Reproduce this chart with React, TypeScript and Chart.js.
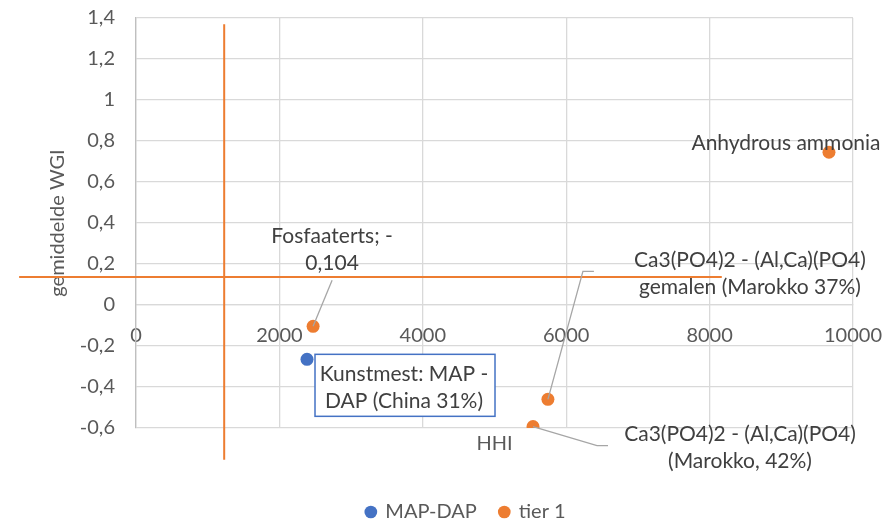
import React, { useEffect, useRef } from "react";
import { Chart, registerables } from "chart.js";

Chart.register(...registerables);

// ---- data ----
const seriesNames = ["MAP-DAP", "tier 1"];
const mapDapX = [2385];
const mapDapY = [-0.265];
const mapDapLabels = [["Kunstmest: MAP -", "DAP (China 31%)"]];
const tierX = [2470, 5745, 5537, 9665];
const tierY = [-0.104, -0.46, -0.593, 0.745];
const tierLabels = [
  ["Fosfaaterts; -", "0,104"],
  ["Ca3(PO4)2 - (Al,Ca)(PO4)", "gemalen (Marokko 37%)"],
  ["Ca3(PO4)2 - (Al,Ca)(PO4)", "(Marokko, 42%)"],
  ["Anhydrous ammonia"],
];
const vLineX = [1230, 1230];
const vLineY = [1.37, -0.755];
const hLineX = [-1630, 8170];
const hLineY = [0.137, 0.137];
const xTicks = [0, 2000, 4000, 6000, 8000, 10000];
const yTicks = [-0.6, -0.4, -0.2, 0, 0.2, 0.4, 0.6, 0.8, 1, 1.2, 1.4];
const xTitle = "HHI";
const yTitle = "gemiddelde WGI";

// ---- styles / label placement (pixels relative to the point) ----
const BLUE = "#4472C4";
const ORANGE = "#ED7D31";
const GRID = "#d9d9d9";
const TICK = "#595959";
const LABEL = "#404040";
const FAMILY = "Lato, 'Open Sans', sans-serif";
const FS = 20;
const LFS = 21;
const LINE_H = 27;
const PAD_LEFT = 79;

const tierLabelLayout = [
  { dx: 19, dy: -90, leader: [[19, -46]] },
  { dx: 202, dy: -139, leader: [[35, -128], [46, -128]] },
  { dx: 207, dy: 8, leader: [[64, 19], [75, 19]] },
  { dx: -43, dy: -9, leader: [] as number[][] },
];
const mapDapLabelLayout = [{ dx: 97, dy: 15, box: { l: 8, r: 188, t: -5, b: 57 } }];

const fmt = (v: number) => {
  const r = Math.round(v * 10) / 10;
  return String(r).replace(".", ",");
};

const labelPlugin = {
  id: "dataLabels",
  afterDatasetsDraw(chart: any) {
    const ctx = chart.ctx;
    ctx.save();
    ctx.font = `${LFS}px ${FAMILY}`;
    ctx.textAlign = "center";
    ctx.textBaseline = "middle";
    const m0 = chart.getDatasetMeta(0);
    m0.data.forEach((pt: any, i: number) => {
      const lay = mapDapLabelLayout[i];
      const lines = mapDapLabels[i];
      if (!lay || !lines) return;
      const b = lay.box;
      ctx.fillStyle = "#ffffff";
      ctx.fillRect(pt.x + b.l, pt.y + b.t, b.r - b.l, b.b - b.t);
      ctx.strokeStyle = BLUE;
      ctx.lineWidth = 1.5;
      ctx.strokeRect(pt.x + b.l, pt.y + b.t, b.r - b.l, b.b - b.t);
      ctx.fillStyle = LABEL;
      lines.forEach((t, k) => ctx.fillText(t, pt.x + lay.dx, pt.y + lay.dy + k * LINE_H));
    });
    const m1 = chart.getDatasetMeta(1);
    m1.data.forEach((pt: any, i: number) => {
      const lay = tierLabelLayout[i];
      const lines = tierLabels[i];
      if (!lay || !lines) return;
      if (lay.leader.length) {
        ctx.beginPath();
        ctx.strokeStyle = "#a6a6a6";
        ctx.lineWidth = 1.3;
        ctx.moveTo(pt.x, pt.y);
        lay.leader.forEach((p) => ctx.lineTo(pt.x + p[0], pt.y + p[1]));
        ctx.stroke();
      }
      ctx.fillStyle = LABEL;
      lines.forEach((t, k) => ctx.fillText(t, pt.x + lay.dx, pt.y + lay.dy + k * LINE_H));
    });
    ctx.restore();
  },
};

export default function App() {
  const ref = useRef<HTMLCanvasElement | null>(null);
  useEffect(() => {
    if (!ref.current) return;
    const font = { family: FAMILY, size: FS };
    const chart = new Chart(ref.current, {
      type: "scatter",
      data: {
        datasets: [
          {
            label: seriesNames[0],
            data: mapDapX.map((x, i) => ({ x, y: mapDapY[i] })),
            backgroundColor: BLUE,
            borderColor: BLUE,
            borderWidth: 0,
            pointRadius: 6.5,
            pointHoverRadius: 6.5,
          },
          {
            label: seriesNames[1],
            data: tierX.map((x, i) => ({ x, y: tierY[i] })),
            backgroundColor: ORANGE,
            borderColor: ORANGE,
            borderWidth: 0,
            pointRadius: 6.5,
            pointHoverRadius: 6.5,
          },
          {
            label: "vline",
            data: vLineX.map((x, i) => ({ x, y: vLineY[i] })),
            showLine: true,
            borderColor: ORANGE,
            backgroundColor: ORANGE,
            borderWidth: 2,
            pointRadius: 0,
            clip: false,
          } as any,
          {
            label: "hline",
            data: hLineX.map((x, i) => ({ x, y: hLineY[i] })),
            showLine: true,
            borderColor: ORANGE,
            backgroundColor: ORANGE,
            borderWidth: 2,
            pointRadius: 0,
            clip: false,
          } as any,
        ],
      },
      options: {
        animation: false,
        responsive: false,
        layout: { padding: { top: 18, right: 38, bottom: -12, left: PAD_LEFT } },
        scales: {
          x: {
            type: "linear",
            position: { y: 0 } as any,
            min: 0,
            max: 10000,
            afterBuildTicks: (s: any) => {
              s.ticks = xTicks.map((v) => ({ value: v }));
            },
            afterFit: (s: any) => {
              s.paddingLeft = 0;
              s.paddingRight = 0;
              s.paddingTop = 0;
              s.paddingBottom = 0;
            },
            ticks: { padding: 19, color: TICK, font, maxRotation: 0, callback: (v: any) => String(v) },
            grid: { color: GRID, drawTicks: false, lineWidth: 1.3 },
            border: { color: GRID, width: 1.3 },
          },
          x2: {
            type: "linear",
            position: "bottom",
            min: 0,
            max: 10000,
            afterFit: (s: any) => {
              s.paddingLeft = 0;
              s.paddingRight = 0;
            },
            grid: { display: false, drawTicks: false },
            ticks: { display: false },
            border: { display: false },
            title: { display: true, text: xTitle, color: TICK, font, padding: { top: 4, bottom: 23 } },
          },
          y: {
            type: "linear",
            position: "left",
            min: -0.6,
            max: 1.4,
            afterBuildTicks: (s: any) => {
              s.ticks = yTicks.map((v) => ({ value: v }));
            },
            afterFit: (s: any) => {
              s.width = 136 - PAD_LEFT;
              s.paddingTop = 0;
              s.paddingBottom = 0;
            },
            ticks: { padding: 21, color: TICK, font, callback: (v: any) => fmt(Number(v)) },
            grid: { color: GRID, drawTicks: false, lineWidth: 1.3 },
            border: { color: "#bfbfbf", width: 1.3 },
            title: { display: true, text: yTitle, color: TICK, font, padding: { top: 58 - 12 - PAD_LEFT, bottom: 0 } },
          },
        },
        plugins: {
          legend: {
            position: "bottom",
            labels: {
              filter: (item: any) => item.datasetIndex < 2,
              usePointStyle: true,
              boxWidth: 9,
              boxHeight: 9,
              color: TICK,
              font,
              padding: 23,
            },
          },
          tooltip: { enabled: false },
          title: { display: false },
        },
      },
      plugins: [labelPlugin],
    });
    return () => chart.destroy();
  }, []);
  return (
    <div style={{ position: "absolute", left: 0, top: 0, width: 891, height: 520, background: "#fff" }}>
      <canvas ref={ref} width={891} height={520} style={{ display: "block" }} />
    </div>
  );
}
